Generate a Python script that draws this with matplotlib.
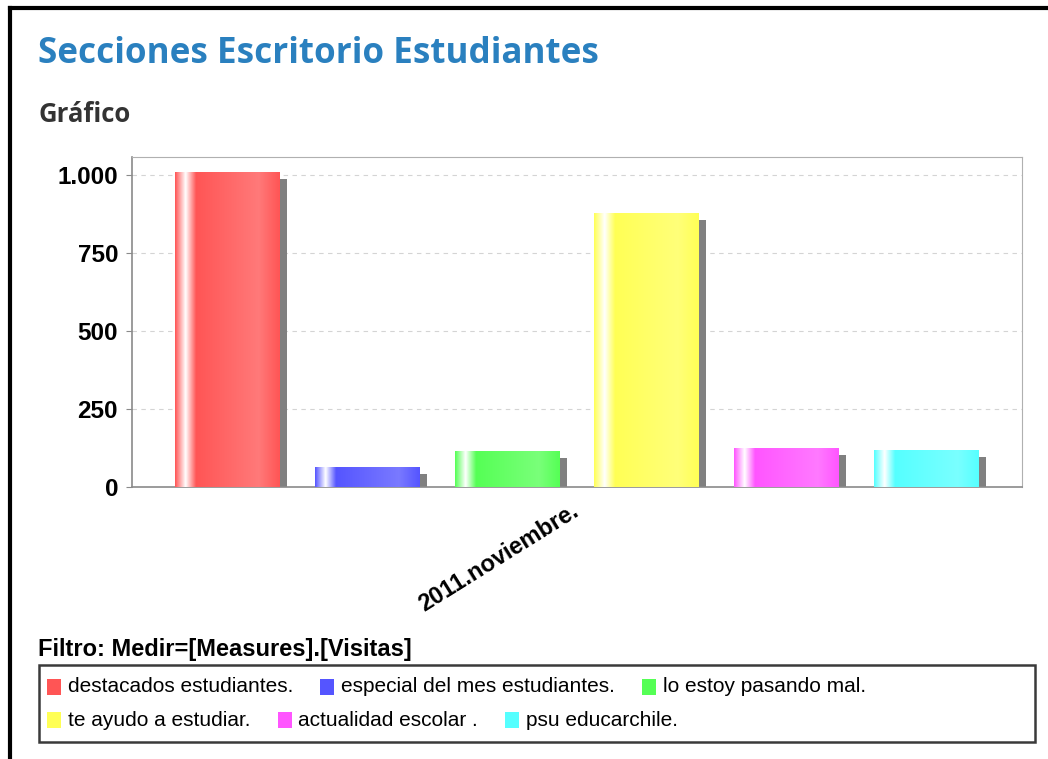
import numpy as np
from matplotlib import pyplot as plt
from matplotlib.colors import to_rgb
from matplotlib.lines import Line2D
from matplotlib.patches import Rectangle
from matplotlib.ticker import FuncFormatter

# dados do gráfico
categoria = "2011.noviembre."
secciones = ["destacados estudiantes.", "especial del mes estudiantes.", "lo estoy pasando mal.",
             "te ayudo a estudiar.", "actualidad escolar .", "psu educarchile."]
visitas = [1010, 65, 114, 878, 125, 118]
colores = ["#FF5555", "#5555FF", "#55FF55", "#FFFF55", "#FF55FF", "#55FFFF"]
y_ticks = [0, 250, 500, 750, 1000]

# tamanho da figura em pixels
W, H = 1048, 759

def fx(px): return px / W          # pixel -> fração horizontal
def fy(py): return 1 - py / H      # pixel (a partir do topo) -> fração vertical


def gradiente(cor, n=240):
    # degradê horizontal no estilo do GradientBarPainter
    c0 = np.array(to_rgb(cor))
    c1 = np.minimum(c0 / 0.7, 1)
    branco = np.ones(3)
    out = np.empty((n, 3))
    for i, s in enumerate(np.linspace(0, 1, n)):
        if s < 0.1:
            out[i] = c0 + (branco - c0) * (s / 0.1)
        elif s < 0.2:
            out[i] = branco + (c0 - branco) * ((s - 0.1) / 0.1)
        elif s < 0.8:
            out[i] = c0 + (c1 - c0) * ((s - 0.2) / 0.6)
        else:
            out[i] = c1 + (c0 - c1) * ((s - 0.8) / 0.2)
    return out[np.newaxis, :, :]


fig = plt.figure(figsize=(W / 100, H / 100), dpi=100)
ax = fig.add_axes([fx(132), fy(487), fx(1022) - fx(132), fy(157) - fy(487)])

x = np.arange(len(visitas))
largura = 0.75

# sombras das barras
sombra_dx, sombra_dy = 0.05, 22
ax.bar(x + sombra_dx, np.array(visitas) - sombra_dy, width=largura, color="#808080", zorder=2)

# barras com degradê
barras = ax.bar(x, visitas, width=largura, color=colores, zorder=3)
for b, c in zip(barras, colores):
    im = ax.imshow(gradiente(c), extent=(b.get_x(), b.get_x() + b.get_width(), 0, b.get_height()),
                   aspect="auto", interpolation="bilinear", zorder=4)
    im.set_clip_path(b)

ax.set_xlim(-0.68, len(visitas) - 1 + 0.68)
ax.set_ylim(0, 1058)
ax.set_aspect("auto")

# eixos e grade
ax.set_yticks(y_ticks)
ax.yaxis.set_major_formatter(FuncFormatter(lambda v, p: f"{v:,.0f}".replace(",", ".")))
ax.yaxis.grid(True, linestyle=(0, (4, 4)), color="#d4d4d4", lw=0.8)
ax.set_axisbelow(True)
for lado in ["top", "right"]:
    ax.spines[lado].set_color("#b0b0b0")
for lado in ["left", "bottom"]:
    ax.spines[lado].set_color("#8a8a8a")
    ax.spines[lado].set_linewidth(1.2)
ax.tick_params(axis="y", length=4, color="#8a8a8a", pad=6)
for t in ax.get_yticklabels():
    t.set_fontfamily("Liberation Sans")
    t.set_fontweight("bold")
    t.set_fontsize(17.5)

ax.set_xticks([(len(visitas) - 1) / 2])
ax.set_xticklabels([categoria], rotation=32, ha="right", va="center", rotation_mode="anchor",
                   fontfamily="Liberation Sans", fontweight="bold", fontsize=17)
ax.tick_params(axis="x", length=0, pad=16)

# títulos
fig.text(fx(38), fy(63), "Secciones Escritorio Estudiantes", fontfamily="Open Sans", fontweight="bold",
         fontsize=25.2, color="#2a80bf", va="baseline")
fig.text(fx(38), fy(122), "Gráfico", fontfamily="Open Sans", fontweight="bold",
         fontsize=18.5, color="#333333", va="baseline")
fig.text(fx(38), fy(656), "Filtro: Medir=[Measures].[Visitas]", fontfamily="Liberation Sans",
         fontweight="bold", fontsize=17, color="black", va="baseline")

# moldura da página
fig.add_artist(Line2D([fx(10), fx(10)], [fy(8), 0], color="black", lw=3))
fig.add_artist(Line2D([fx(10), 1], [fy(8), fy(8)], color="black", lw=3))

# caixa da legenda
fig.add_artist(Rectangle((fx(39), fy(742)), fx(1035) - fx(39), fy(665) - fy(742),
                         transform=fig.transFigure, fill=False, edgecolor="#3a3a3a", lw=1.8))

# legenda em fluxo (quebra de linha quando não cabe)
renderer = fig.canvas.get_renderer()
linhas_y = [687, 720]
px_x, linha = 47, 0
for nome, c in zip(secciones, colores):
    t = fig.text(0, 0, nome, fontfamily="Liberation Sans", fontsize=15, va="center")
    larg = t.get_window_extent(renderer).width
    if px_x + 21 + larg > 1030:
        linha += 1
        px_x = 47
    t.set_position((fx(px_x + 21), fy(linhas_y[linha])))
    fig.add_artist(Rectangle((fx(px_x), fy(linhas_y[linha] + 8)), fx(14), 16 / H,
                             transform=fig.transFigure, color=c, lw=0))
    px_x += 21 + larg + 27

plt.savefig("out.png", dpi=100)
plt.close()
